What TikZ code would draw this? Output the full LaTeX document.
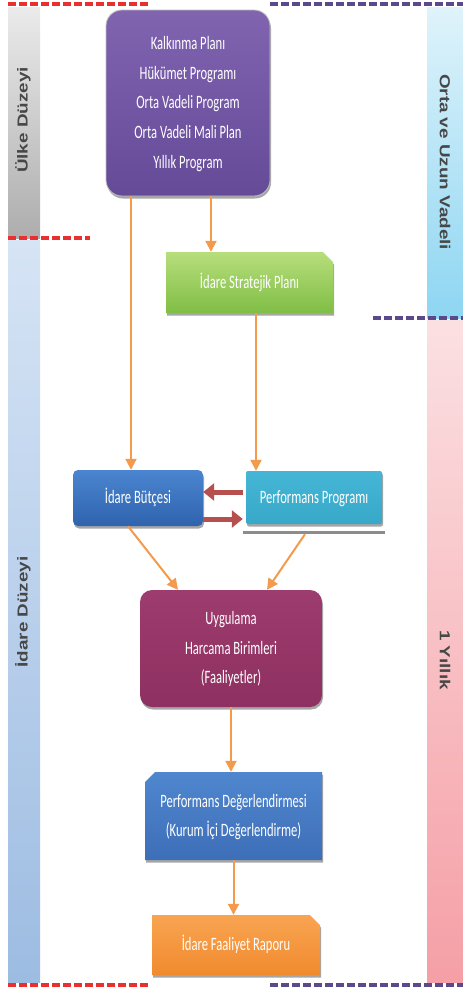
\documentclass[tikz,border=0pt]{standalone}
\usepackage{fontspec}
\usepackage{graphicx}
\setmainfont{Carlito}
\newfontfamily\bandfont{Liberation Sans}
\usetikzlibrary{arrows.meta, shapes.misc, shadows}

\definecolor{flowOrange}{HTML}{F39A4D}
\definecolor{swapRed}{HTML}{B5504F}
\definecolor{dashRed}{HTML}{E8312F}
\definecolor{dashPurple}{HTML}{5B4A8B}

\newcommand{\boxtext}[1]{\scalebox{1}[1.5]{\begin{tabular}{@{}c@{}}#1\end{tabular}}}
\newcommand{\bandtext}[1]{\scalebox{1.3}[1]{#1}}

\tikzset{
    stage/.style={text=white, inner sep=0pt, font=\fontsize{12.6}{19.7}\selectfont,
        drop shadow={shadow xshift=1pt, shadow yshift=-2.5pt, opacity=0.35, fill=black}},
    snipped/.style={chamfered rectangle, chamfered rectangle corners=#1,
        chamfered rectangle xsep=5pt, chamfered rectangle ysep=5pt},
    flow/.style={draw=flowOrange, line width=2pt, -{Triangle[width=11pt,length=11pt]}},
    swap/.style={draw=swapRed, line width=5pt, -{Triangle[width=17pt,length=11pt]}},
    bandlabel/.style={font=\bandfont\bfseries\fontsize{14.5}{16}\selectfont, text=black!72, inner sep=0pt},
    redline/.style={draw=dashRed, line width=4pt, dash pattern=on 8pt off 3pt},
    purpleline/.style={draw=dashPurple, line width=4pt, dash pattern=on 8pt off 3pt}
}

\begin{document}
\begin{tikzpicture}[x=1pt, y=-1pt]
    \useasboundingbox (0,0) rectangle (463,988);

    %% Bands
    \shade[top color=black!8, bottom color=black!32] (8,7) rectangle (40,238);
    \shade[top color={rgb,255:red,214;green,228;blue,245}, bottom color={rgb,255:red,157;green,188;blue,226}] (8,240) rectangle (40,982);
    \shade[top color={rgb,255:red,223;green,243;blue,251}, bottom color={rgb,255:red,142;green,214;blue,242}] (427,7) rectangle (463,318);
    \shade[top color={rgb,255:red,251;green,224;blue,226}, bottom color={rgb,255:red,245;green,159;blue,166}] (427,320) rectangle (463,982);
    \node[bandlabel, rotate=90] (countrylbl) at (23,120) {\bandtext{Ülke Düzeyi}};
    \node[bandlabel, rotate=90] (unitlbl) at (23,612) {\bandtext{İdare Düzeyi}};
    \node[bandlabel, rotate=-90] (longlbl) at (445,162) {\bandtext{Orta ve Uzun Vadeli}};
    \node[bandlabel, rotate=-90] (yearlbl) at (445,660) {\bandtext{1 Yıllık}};

    %% Dashed borders
    \draw[redline] (8,4) -- (148,4);
    \draw[redline] (8,238) -- (90,238);
    \draw[redline] (8,985) -- (150,985);
    \draw[purpleline] (270,4) -- (463,4);
    \draw[purpleline] (373,318) -- (463,318);
    \draw[purpleline] (270,985) -- (463,985);

    %% Boxes
    \node[stage, rounded corners=16pt, minimum width=164pt, minimum height=186pt,
        top color={rgb,255:red,128;green,100;blue,176}, bottom color={rgb,255:red,101;green,74;blue,152},
        draw=black!25, line width=0.8pt] (plan) at (188,103)
        {\boxtext{Kalkınma Planı\\Hükümet Programı\\Orta Vadeli Program\\Orta Vadeli Mali Plan\\Yıllık Program}};
    \node[stage, snipped=north east, minimum width=167pt, minimum height=61pt,
        top color={rgb,255:red,183;green,222;blue,124}, bottom color={rgb,255:red,128;green,190;blue,69}] (strategy) at (249.5,282.5)
        {\boxtext{İdare Stratejik Planı}};
    \node[stage, rounded corners=5pt, minimum width=130pt, minimum height=56pt,
        top color={rgb,255:red,75;green,133;blue,207}, bottom color={rgb,255:red,47;green,99;blue,174}] (budget) at (138,498)
        {\boxtext{İdare Bütçesi}};
    \node[stage, rounded corners=2pt, minimum width=136pt, minimum height=53pt, drop shadow={opacity=0},
        top color={rgb,255:red,69;green,182;blue,213}, bottom color={rgb,255:red,56;green,168;blue,200}] (perfprog) at (314,497.5)
        {\boxtext{Performans Programı}};
    \node[stage, rounded corners=12pt, minimum width=182pt, minimum height=117pt,
        top color={rgb,255:red,157;green,60;blue,110}, bottom color={rgb,255:red,142;green,48;blue,97}] (practice) at (231,648.5)
        {\boxtext{Uygulama\\Harcama Birimleri\\(Faaliyetler)}};
    \node[stage, snipped=north west, minimum width=177pt, minimum height=88pt,
        top color={rgb,255:red,79;green,135;blue,207}, bottom color={rgb,255:red,62;green,110;blue,184}] (evaluation) at (233.5,816)
        {\boxtext{Performans Değerlendirmesi\\(Kurum İçi Değerlendirme)}};
    \node[stage, snipped=north east, minimum width=168pt, minimum height=60pt,
        top color={rgb,255:red,249;green,164;blue,82}, bottom color={rgb,255:red,240;green,138;blue,46}] (report) at (236,945)
        {\boxtext{İdare Faaliyet Raporu}};
    \draw[black!45, line width=3pt] ([xshift=-3pt, yshift=-8pt]perfprog.south west) -- ([xshift=3pt, yshift=-8pt]perfprog.south east);

    % Connectors
    \draw[flow] ([xshift=-57pt]plan.south) -- ([xshift=-7pt]budget.north);
    \draw[flow] ([xshift=23pt]plan.south) -- ([xshift=-38.5pt]strategy.north);
    \draw[flow] ([xshift=6.5pt]strategy.south) -- ([xshift=-58pt]perfprog.north);
    \draw[flow] ([xshift=-10pt]budget.south) -- ([xshift=-53pt]practice.north);
    \draw[flow] ([xshift=-9pt, yshift=-10pt]perfprog.south) -- ([xshift=36pt]practice.north);
    \draw[flow] (practice.south) -- (practice.south |- evaluation.north);
    \draw[flow] (evaluation.south) -- (evaluation.south |- report.north);
    \draw[swap] ([xshift=-3pt, yshift=5.5pt]perfprog.west) -- ([yshift=6pt]budget.east);
    \draw[swap] ([yshift=-21pt]budget.east) -- ([xshift=-3pt, yshift=-21.5pt]perfprog.west);

\end{tikzpicture}
\end{document}
